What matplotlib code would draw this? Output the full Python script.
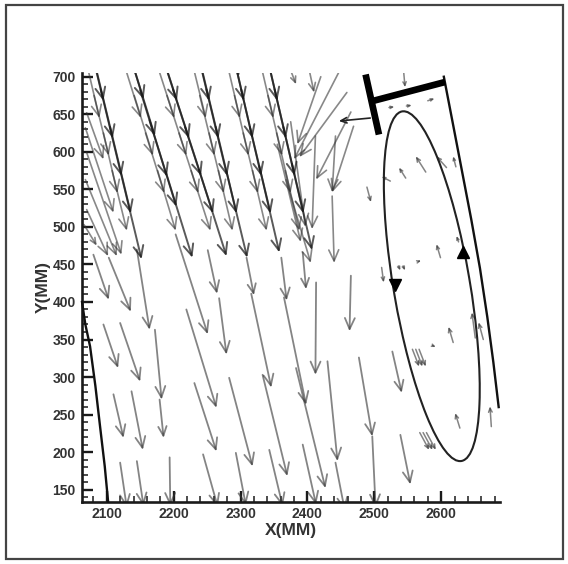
import numpy as np
import matplotlib
matplotlib.use("Agg")
import matplotlib.pyplot as plt
from matplotlib.patches import FancyArrowPatch, ArrowStyle, Ellipse, Rectangle
from matplotlib.ticker import MultipleLocator

# ---------------- data (mm) ----------------
# lower velocity field: tail x, tail y, dx, dy
low_x = [2080, 2103, 2145, 2095, 2120, 2172, 2110, 2137, 2179, 2120, 2145, 2194,
         2203, 2219, 2231, 2244, 2268, 2251, 2309, 2316, 2361, 2365, 2393, 2413,
         2465, 2283, 2333, 2383, 2430, 2293, 2343, 2393, 2477, 2497, 2442, 2527, 2539]
low_y = [463, 459, 470, 370, 372, 363, 277, 281, 270, 186, 188, 193,
         490, 390, 292, 197, 405, 469, 459, 411, 459, 406, 466, 426,
         435, 299, 303, 312, 321, 199, 203, 210, 326, 221, 186, 334, 223]
low_u = [23, 33, 19, 22, 30, 10, 15, 17, 6, 10, 10, 1,
         48, 45, 33, 22, 11, 14, 11, 30, 8, 33, 5, -1,
         -2, 35, 37, 44, 15, 15, 20, 20, 20, 5, 14, 14, 15]
low_v = [-60, -72, -107, -58, -78, -93, -58, -78, -51, -60, -60, -65,
         -133, -131, -91, -70, -75, -58, -50, -125, -57, -143, -49, -123,
         -74, -118, -135, -160, -133, -70, -75, -80, -105, -95, -64, -55, -66]

# upper streaks, core vectors: tail x, tail y, head x, head y
core_tx = [2064, 2078, 2091, 2105, 2121,
           2115, 2132, 2150, 2164, 2188,
           2163, 2181, 2199, 2217, 2238,
           2222, 2236, 2249, 2263, 2279,
           2275, 2288, 2301, 2314, 2328,
           2325, 2338, 2351, 2364, 2377]
core_ty = [783, 733, 683, 633, 572,
           785, 736, 682, 642, 574,
           783, 733, 683, 633, 576,
           783, 733, 683, 633, 574,
           783, 733, 683, 633, 581,
           783, 733, 683, 633, 584]
core_hx = [2095, 2109, 2122, 2136, 2152,
           2155, 2172, 2190, 2204, 2228,
           2205, 2223, 2241, 2259, 2279,
           2253, 2267, 2280, 2294, 2310,
           2305, 2318, 2331, 2345, 2358,
           2355, 2368, 2381, 2394, 2407]
core_hy = [668, 618, 568, 518, 457,
           670, 621, 567, 527, 459,
           668, 618, 568, 518, 461,
           668, 618, 568, 518, 459,
           668, 618, 568, 518, 466,
           668, 618, 568, 518, 469]

# upper region, other vectors: tail x, tail y, head x, head y
up_tx = [2068, 2081, 2095, 2108,
         2123, 2141, 2158, 2176,
         2172, 2190, 2208, 2226,
         2226, 2239, 2253, 2267,
         2278, 2291, 2304, 2318,
         2328, 2341, 2354, 2367,
         2070, 2068, 2070, 2068, 2070, 2066,
         2412, 2442, 2437, 2368, 2370, 2400, 2290, 2375, 2355,
         2447, 2459, 2465, 2469, 2420]
up_ty = [725, 675, 625, 575,
         725, 675, 625, 575,
         725, 675, 625, 575,
         725, 675, 625, 575,
         725, 675, 625, 575,
         725, 675, 625, 575,
         652, 632, 599, 563, 523, 503,
         621, 621, 541, 563, 720, 720, 725, 640, 610,
         706, 679, 653, 634, 700]
up_hx = [2089, 2103, 2116, 2130,
         2151, 2169, 2186, 2203,
         2201, 2219, 2237, 2255,
         2248, 2261, 2275, 2288,
         2299, 2312, 2326, 2339,
         2349, 2362, 2375, 2388,
         2095, 2110, 2122, 2115, 2102, 2085,
         2407, 2437, 2440, 2405, 2383, 2410, 2298, 2397, 2390,
         2380, 2388, 2413, 2437, 2385]
up_hy = [645, 595, 545, 495,
         645, 595, 545, 495,
         645, 595, 545, 495,
         645, 595, 545, 495,
         645, 595, 545, 495,
         645, 595, 545, 495,
         590, 519, 463, 461, 461, 475,
         497, 546, 452, 452, 690, 679, 701, 500, 480,
         590, 593, 563, 546, 610]

# small vectors inside the vortex: tail x, tail y, dx, dy
vor_x = [2544, 2522, 2548, 2580, 2524, 2547, 2577, 2608, 2622, 2489, 2511, 2536,
         2543, 2566, 2599, 2626, 2568, 2573, 2578, 2557, 2562, 2567, 2587, 2618,
         2628, 2651, 2663, 2675]
vor_y = [706, 659, 661, 668, 561, 565, 573, 579, 580, 553, 446, 448,
         448, 454, 459, 480, 226, 226, 226, 337, 337, 337, 342, 346,
         232, 352, 350, 234]
vor_u = [2, 8, 8, 10, -13, -10, -15, -15, -4, 6, 3, 3,
         3, 4, -6, -3, 14, 14, 14, 10, 10, 10, 5, -7,
         -7, -5, -7, -2]
vor_v = [-20, 1, 1, 3, 6, 14, 21, 15, 14, -20, -20, -6,
         -6, 1, 18, 8, -23, -23, -23, -23, -23, -23, -2, 21,
         20, 34, 23, 27]

# boundary curves
left_cx = [2063, 2068, 2075, 2083, 2090, 2097, 2102]
left_cy = [400, 370, 341, 288, 234, 181, 134]
right_cx = [2604, 2617, 2631, 2645, 2658, 2669, 2678, 2686]
right_cy = [700, 640, 575, 510, 445, 380, 320, 260]
# T-shaped body
t_vert_x, t_vert_y = [2487, 2507], [703, 623]
t_hor_x, t_hor_y = [2499, 2606], [668, 693]
pointer = (2494, 645, 2447, 641)
# vortex ellipse
vort_center = (2586, 421)
vort_major, vort_minor, vort_angle = 474, 114, 100.9
vort_dn = (2531, 423)
vort_up = (2633, 466)

xticks = [2100, 2200, 2300, 2400, 2500, 2600]
yticks = [150, 200, 250, 300, 350, 400, 450, 500, 550, 600, 650, 700]

# ---------------- figure ----------------
DPI = 100
fig = plt.figure(figsize=(5.68, 5.64), dpi=DPI)
ax = fig.add_axes([0.1444, 0.1105, 0.7359, 0.7601])
ax.set_xlim(2063, 2688)
ax.set_ylim(134, 705)

for s in ("top", "right"):
    ax.spines[s].set_visible(False)
for s in ("left", "bottom"):
    ax.spines[s].set_linewidth(1.9)
    ax.spines[s].set_color("#1a1a1a")

ax.set_xticks(xticks)
ax.set_yticks(yticks)
ax.xaxis.set_minor_locator(MultipleLocator(20))
ax.yaxis.set_minor_locator(MultipleLocator(10))
ax.tick_params(which="major", direction="in", length=8, width=1.7, color="#1a1a1a")
ax.tick_params(which="minor", direction="in", length=4.5, width=1.1, color="#1a1a1a")
ax.tick_params(axis="x", which="major", pad=3.5)
ax.tick_params(axis="y", which="major", pad=4.5)
for lab in ax.get_xticklabels() + ax.get_yticklabels():
    lab.set_fontfamily("Liberation Sans")
    lab.set_fontweight("bold")
    lab.set_fontsize(10)
    lab.set_color("#333333")

ax.set_xlabel("X(MM)", fontfamily="Liberation Sans", fontweight="bold",
              fontsize=12.5, color="#333333")
ax.set_ylabel("Y(MM)", fontfamily="Liberation Sans", fontweight="bold",
              fontsize=12.5, color="#333333")
ax.xaxis.set_label_coords(0.5, -0.05)
ax.yaxis.set_label_coords(-0.075, 0.5)

fig.canvas.draw()


def draw_arrow(x0, y0, x1, y1, color, lw, alpha, hmax=11.0, z=2):
    p0 = ax.transData.transform((x0, y0))
    p1 = ax.transData.transform((x1, y1))
    L = float(np.hypot(*(p1 - p0)))
    hl = min(max(0.24 * L, 2.5), hmax)
    hl_pt = hl * 72.0 / DPI
    st = ArrowStyle("->", head_length=hl_pt, head_width=0.45 * hl_pt)
    a = FancyArrowPatch((x0, y0), (x1, y1), arrowstyle=st, mutation_scale=1,
                        shrinkA=0, shrinkB=0, lw=lw, color=color, alpha=alpha,
                        zorder=z, clip_on=True)
    ax.add_patch(a)


GRAY = (0.2, 0.2, 0.2)
for x, y, u, v in zip(low_x, low_y, low_u, low_v):
    draw_arrow(x, y, x + u, y + v, GRAY, 1.3, 0.6)
for tx, ty, hx, hy in zip(up_tx, up_ty, up_hx, up_hy):
    draw_arrow(tx, ty, hx, hy, GRAY, 1.2, 0.58)
for tx, ty, hx, hy in zip(core_tx, core_ty, core_hx, core_hy):
    draw_arrow(tx, ty, hx, hy, (0.1, 0.1, 0.1), 1.4, 0.72)
for x, y, u, v in zip(vor_x, vor_y, vor_u, vor_v):
    draw_arrow(x, y, x + u, y + v, GRAY, 1.1, 0.6, hmax=4.0)

# black features
ax.plot(left_cx, left_cy, color="#111111", lw=1.7, zorder=3, clip_on=False)
ax.plot(right_cx, right_cy, color="#111111", lw=1.7, zorder=3)
ax.plot(t_vert_x, t_vert_y, color="black", lw=4.8, solid_capstyle="butt", zorder=4)
ax.plot(t_hor_x, t_hor_y, color="black", lw=4.8, solid_capstyle="butt", zorder=4)
draw_arrow(pointer[0], pointer[1], pointer[2], pointer[3], "#222222", 1.2, 1.0,
           hmax=6.0, z=4)
ax.add_patch(Ellipse(vort_center, vort_major, vort_minor, angle=vort_angle,
                     fill=False, ec="#222222", lw=1.5, zorder=3))
ax.plot([vort_dn[0]], [vort_dn[1]], marker="v", ms=9, color="black", zorder=5)
ax.plot([vort_up[0]], [vort_up[1]], marker="^", ms=9, color="black", zorder=5)

# outer frame
fig.patches.append(Rectangle((0.0114, 0.0089), 0.980, 0.9816,
                             transform=fig.transFigure, fill=False,
                             ec="#444444", lw=1.6))

fig.savefig("out.png", dpi=DPI)
